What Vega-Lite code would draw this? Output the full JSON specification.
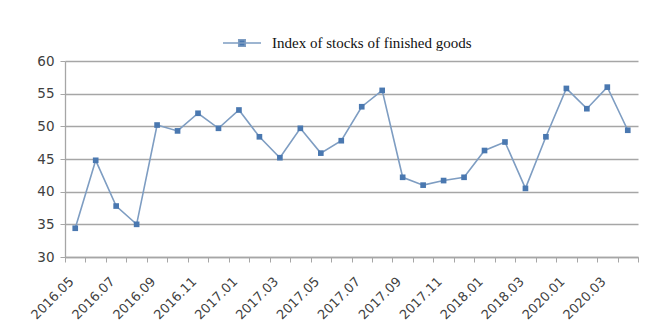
{
  "$schema": "https://vega.github.io/schema/vega-lite/v6.json",
  "autosize": {"type": "none"},
  "width": 573,
  "height": 196,
  "padding": {"left": 65, "top": 61, "right": 13, "bottom": 68},
  "background": "white",
  "config": {"view": {"stroke": null}},
  "data": {
    "values": [
      {"month": "2016.05", "value": 34.4, "series": "Index of stocks of finished goods"},
      {"month": "2016.06", "value": 44.8, "series": "Index of stocks of finished goods"},
      {"month": "2016.07", "value": 37.8, "series": "Index of stocks of finished goods"},
      {"month": "2016.08", "value": 35.0, "series": "Index of stocks of finished goods"},
      {"month": "2016.09", "value": 50.2, "series": "Index of stocks of finished goods"},
      {"month": "2016.10", "value": 49.3, "series": "Index of stocks of finished goods"},
      {"month": "2016.11", "value": 52.0, "series": "Index of stocks of finished goods"},
      {"month": "2016.12", "value": 49.7, "series": "Index of stocks of finished goods"},
      {"month": "2017.01", "value": 52.5, "series": "Index of stocks of finished goods"},
      {"month": "2017.02", "value": 48.4, "series": "Index of stocks of finished goods"},
      {"month": "2017.03", "value": 45.2, "series": "Index of stocks of finished goods"},
      {"month": "2017.04", "value": 49.7, "series": "Index of stocks of finished goods"},
      {"month": "2017.05", "value": 45.9, "series": "Index of stocks of finished goods"},
      {"month": "2017.06", "value": 47.8, "series": "Index of stocks of finished goods"},
      {"month": "2017.07", "value": 53.0, "series": "Index of stocks of finished goods"},
      {"month": "2017.08", "value": 55.5, "series": "Index of stocks of finished goods"},
      {"month": "2017.09", "value": 42.2, "series": "Index of stocks of finished goods"},
      {"month": "2017.10", "value": 41.0, "series": "Index of stocks of finished goods"},
      {"month": "2017.11", "value": 41.7, "series": "Index of stocks of finished goods"},
      {"month": "2017.12", "value": 42.2, "series": "Index of stocks of finished goods"},
      {"month": "2018.01", "value": 46.3, "series": "Index of stocks of finished goods"},
      {"month": "2018.02", "value": 47.6, "series": "Index of stocks of finished goods"},
      {"month": "2018.03", "value": 40.5, "series": "Index of stocks of finished goods"},
      {"month": "2018.04", "value": 48.4, "series": "Index of stocks of finished goods"},
      {"month": "2020.01", "value": 55.8, "series": "Index of stocks of finished goods"},
      {"month": "2020.02", "value": 52.7, "series": "Index of stocks of finished goods"},
      {"month": "2020.03", "value": 56.0, "series": "Index of stocks of finished goods"},
      {"month": "2020.04", "value": 49.4, "series": "Index of stocks of finished goods"}
    ]
  },
  "encoding": {
    "x": {
      "field": "month",
      "type": "ordinal",
      "sort": null,
      "scale": {"type": "band", "paddingInner": 0, "paddingOuter": 0},
      "axis": {
        "title": null,
        "tickBand": "extent",
        "labelAngle": -45,
        "labelAlign": "right",
        "labelBaseline": "middle",
        "labelPadding": 17,
        "labelOffset": -4,
        "labelExpr": "toNumber(substring(datum.value, 5, 7)) % 2 == 1 ? datum.value : ''",
        "labelFont": "DejaVu Sans",
        "labelFontSize": 13,
        "labelColor": "#404040",
        "labelOverlap": false,
        "domainColor": "#a6a6a6",
        "domainWidth": 1.3,
        "tickColor": "#a6a6a6",
        "tickSize": 5,
        "grid": false
      }
    },
    "y": {
      "field": "value",
      "type": "quantitative",
      "scale": {"domain": [30, 60], "nice": false, "zero": false},
      "axis": {
        "title": null,
        "values": [30, 35, 40, 45, 50, 55, 60],
        "labelFont": "DejaVu Sans",
        "labelFontSize": 13.5,
        "labelColor": "#404040",
        "labelPadding": 6,
        "domainColor": "#a6a6a6",
        "domainWidth": 1.3,
        "tickColor": "#a6a6a6",
        "tickSize": 5,
        "grid": true,
        "gridColor": "#a6a6a6",
        "gridWidth": 1.3
      }
    },
    "color": {
      "field": "series",
      "type": "nominal",
      "scale": {"range": ["#7e9dc2"]},
      "legend": {
        "title": null,
        "orient": "none",
        "legendX": 157,
        "legendY": -38,
        "symbolType": "M-1,0 L1,0 M-0.17,-0.17 L0.17,-0.17 L0.17,0.17 L-0.17,0.17 Z",
        "symbolSize": 1444,
        "symbolFillColor": "#4a78b0",
        "symbolStrokeColor": "#7e9dc2",
        "symbolStrokeWidth": 1.6,
        "labelFont": "Liberation Serif",
        "labelFontSize": 15,
        "labelColor": "#111111",
        "labelOffset": 10,
        "labelLimit": 0
      }
    }
  },
  "layer": [
    {"mark": {"type": "line", "strokeWidth": 1.6, "color": "#7e9dc2"}},
    {"mark": {"type": "square", "size": 32, "filled": true, "opacity": 1, "color": "#4a78b0"}, "encoding": {"color": {"value": "#4a78b0"}}}
  ]
}
